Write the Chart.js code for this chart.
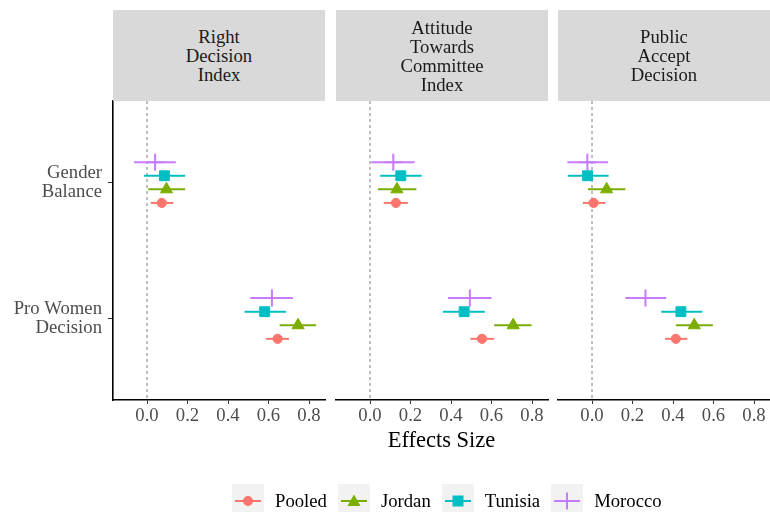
<!DOCTYPE html>
<html>
<head>
<meta charset="utf-8">
<script src="https://cdn.jsdelivr.net/npm/chart.js@4.4.1/dist/chart.umd.min.js"></script>
<style>
  html, body { margin: 0; padding: 0; background: #ffffff; }
  #wrap { position: relative; width: 770px; height: 512px; overflow: hidden;
          font-family: "Liberation Serif", "Times New Roman", serif; }
  #wrap canvas { position: absolute; left: 0; top: 0; }
  .strip { position: absolute; top: 10px; height: 91px; background: #D9D9D9; color: #1A1A1A;
           font-size: 18.7px; line-height: 19px; display: flex; align-items: center;
           justify-content: center; text-align: center; }
  #xtitle { position: absolute; top: 427px; left: 113px; width: 657px; text-align: center;
            font-size: 22.5px; line-height: 26px; color: #000; }
  #legend { position: absolute; left: 232px; top: 484px; display: flex; align-items: center;
            font-size: 18.7px; color: #000; line-height: 20px; }
  .item { display: flex; align-items: center; margin-right: 11px; }
  .item svg { margin-right: 11px; display: block; }
</style>
</head>
<body>
<div id="wrap">
  <canvas id="c0" width="770" height="512"></canvas>
  <canvas id="c1" width="770" height="512"></canvas>
  <canvas id="c2" width="770" height="512"></canvas>
  <div id="xtitle">Effects Size</div>
  <div id="legend"></div>
</div>
<script>
// Outcomes (facets), rows and groups
const outcomeTitles = [
  ['Right', 'Decision', 'Index'],
  ['Attitude', 'Towards', 'Committee', 'Index'],
  ['Public', 'Accept', 'Decision']
];
const rowLabels = [['Gender', 'Balance'], ['Pro Women', 'Decision']];
const seriesNames = ['Pooled', 'Jordan', 'Tunisia', 'Morocco'];
const xTickValues = [0, 0.2, 0.4, 0.6, 0.8];

// Estimates: one [Gender Balance, Pro Women Decision] pair per series
const rightDecisionEst  = [[0.073, 0.645], [0.096, 0.746], [0.086, 0.581], [0.040, 0.617]];
const rightDecisionLow  = [[0.018, 0.587], [0.006, 0.655], [-0.015, 0.482], [-0.064, 0.510]];
const rightDecisionHigh = [[0.130, 0.701], [0.188, 0.835], [0.188, 0.686], [0.142, 0.721]];

const attitudeEst  = [[0.128, 0.553], [0.133, 0.707], [0.152, 0.465], [0.115, 0.493]];
const attitudeLow  = [[0.068, 0.496], [0.039, 0.613], [0.050, 0.360], [0.006, 0.385]];
const attitudeHigh = [[0.187, 0.613], [0.229, 0.798], [0.255, 0.567], [0.220, 0.600]];

const publicAcceptEst  = [[0.008, 0.414], [0.072, 0.505], [-0.022, 0.439], [-0.023, 0.264]];
const publicAcceptLow  = [[-0.045, 0.360], [-0.020, 0.414], [-0.119, 0.342], [-0.122, 0.165]];
const publicAcceptHigh = [[0.066, 0.471], [0.165, 0.597], [0.082, 0.545], [0.079, 0.366]];

const panels = [
  { est: rightDecisionEst, low: rightDecisionLow, high: rightDecisionHigh },
  { est: attitudeEst, low: attitudeLow, high: attitudeHigh },
  { est: publicAcceptEst, low: publicAcceptLow, high: publicAcceptHigh }
];

// Styling
const FONT = '"Liberation Serif", "Times New Roman", serif';
const colors = ['#F8766D', '#7CAE00', '#00BFC4', '#C77CFF'];
const shapes = ['circle', 'triangle', 'rect', 'cross'];
const radii = [4.6, 7, 7, 8.5];
const dodge = [0.15, 0.05, -0.05, -0.15];
const panelLeft = [113, 336, 558];
const panelWidth = 212;
const X_MIN = -0.168, X_MAX = 0.879;

// Horizontal confidence intervals, drawn right after the dashed reference line
const intervalPlugin = {
  id: 'intervals',
  afterDatasetDraw(chart, args) {
    const ds = chart.data.datasets[args.index];
    if (!ds.isRefLine) return;
    const ctx = chart.ctx;
    const xs = chart.scales.x, ys = chart.scales.y;
    ctx.save();
    ctx.lineWidth = 2;
    ctx.lineCap = 'butt';
    chart.data.datasets.forEach(d => {
      if (!d.low) return;
      d.data.forEach((pt, k) => {
        const y = ys.getPixelForValue(pt.y);
        ctx.strokeStyle = d.borderColor;
        ctx.beginPath();
        ctx.moveTo(xs.getPixelForValue(d.low[k]), y);
        ctx.lineTo(xs.getPixelForValue(d.high[k]), y);
        ctx.stroke();
      });
    });
    ctx.restore();
  }
};

panels.forEach((p, i) => {
  const datasets = seriesNames.map((name, s) => ({
    label: name,
    data: [0, 1].map(r => ({ x: p.est[s][r], y: r + 1 + dodge[s] })),
    low: p.low[s],
    high: p.high[s],
    pointStyle: shapes[s],
    pointRadius: radii[s],
    pointHoverRadius: radii[s],
    backgroundColor: colors[s],
    borderColor: colors[s],
    pointBorderWidth: s === 3 ? 2 : 1,
    showLine: false,
    order: 1
  }));
  datasets.push({
    type: 'line',
    isRefLine: true,
    data: [{ x: 0, y: 0.4 }, { x: 0, y: 2.6 }],
    borderColor: '#7F7F7F',
    borderWidth: 1,
    borderDash: [3, 3],
    pointRadius: 0,
    order: 10
  });

  const showY = i === 0;
  new Chart(document.getElementById('c' + i), {
    type: 'scatter',
    data: { datasets },
    plugins: [intervalPlugin],
    options: {
      responsive: false,
      animation: false,
      events: [],
      layout: {
        autoPadding: false,
        padding: {
          left: showY ? 0 : panelLeft[i],
          right: 770 - panelLeft[i] - panelWidth,
          top: 101,
          bottom: 512 - 400 - 30
        }
      },
      plugins: { legend: { display: false }, tooltip: { enabled: false } },
      scales: {
        x: {
          type: 'linear',
          min: X_MIN,
          max: X_MAX,
          afterBuildTicks: sc => { sc.ticks = xTickValues.map(v => ({ value: v })); },
          afterFit: sc => { sc.height = 30; sc.paddingLeft = 0; sc.paddingRight = 0; },
          ticks: {
            callback: v => v.toFixed(1),
            color: '#4D4D4D',
            font: { family: FONT, size: 18.7 },
            padding: 1,
            maxRotation: 0,
            autoSkip: false
          },
          grid: { drawOnChartArea: false, tickLength: 4, color: '#333333', lineWidth: 1 },
          border: { display: true, color: '#000000', width: 1.6 }
        },
        y: {
          type: 'linear',
          display: showY,
          reverse: true,
          min: 0.4,
          max: 2.6,
          afterBuildTicks: sc => { sc.ticks = [{ value: 1 }, { value: 2 }]; },
          afterFit: sc => { sc.width = showY ? 113 : 0; sc.paddingTop = 0; sc.paddingBottom = 0; },
          ticks: {
            callback: v => rowLabels[v - 1],
            color: '#4D4D4D',
            font: { family: FONT, size: 18.7, lineHeight: 1 },
            padding: 6,
            autoSkip: false
          },
          grid: { drawOnChartArea: false, tickLength: 5, color: '#333333', lineWidth: 1 },
          border: { display: true, color: '#000000', width: 1.6 }
        }
      }
    }
  });

  // facet strip header
  const strip = document.createElement('div');
  strip.className = 'strip';
  strip.style.left = panelLeft[i] + 'px';
  strip.style.width = panelWidth + 'px';
  strip.innerHTML = '<div>' + outcomeTitles[i].join('<br>') + '</div>';
  document.getElementById('wrap').appendChild(strip);
});

// Legend keys
const keySvg = s => {
  const c = colors[s];
  let mark = '';
  if (s === 0) mark = `<circle cx="16" cy="17" r="5" fill="${c}"/>`;
  if (s === 1) mark = `<polygon points="16,10.5 22.5,22 9.5,22" fill="${c}"/>`;
  if (s === 2) mark = `<rect x="10.5" y="11.5" width="11" height="11" fill="${c}"/>`;
  if (s === 3) mark = `<line x1="16" y1="8.5" x2="16" y2="25.5" stroke="${c}" stroke-width="2"/>`;
  return `<svg width="32" height="34" viewBox="0 0 32 34"><rect width="32" height="34" fill="#F2F2F2"/>` +
         `<line x1="3" y1="17" x2="29" y2="17" stroke="${c}" stroke-width="2"/>${mark}</svg>`;
};
const legend = document.getElementById('legend');
seriesNames.forEach((name, s) => {
  const item = document.createElement('div');
  item.className = 'item';
  item.innerHTML = keySvg(s) + '<span>' + name + '</span>';
  legend.appendChild(item);
});
</script>
</body>
</html>
